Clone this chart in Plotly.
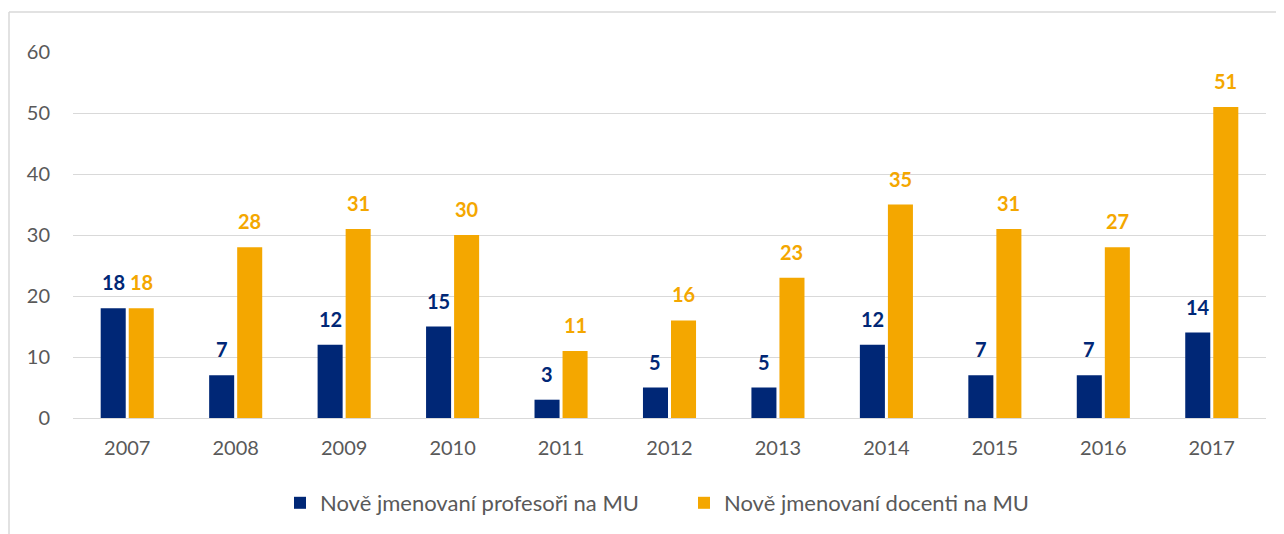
import plotly.graph_objects as go

years = ["2007", "2008", "2009", "2010", "2011", "2012", "2013", "2014", "2015", "2016", "2017"]
profesori = [18, 7, 12, 15, 3, 5, 5, 12, 7, 7, 14]
profesori_labels = [18, 7, 12, 15, 3, 5, 5, 12, 7, 7, 14]
docenti = [18, 28, 31, 30, 11, 16, 23, 35, 31, 28, 51]
docenti_labels = [18, 28, 31, 30, 11, 16, 23, 35, 31, 27, 51]

BLUE = "#002776"
ORANGE = "#F4A700"
FONT = "Lato, 'Open Sans', sans-serif"

# figure coordinates (page is offset by 8px body margin)
W, H = 1284, 534
plot_l, plot_r, plot_t, plot_b = 65, 1258, 44, 410
ph = plot_b - plot_t
pw = plot_r - plot_l
bargap, bargroupgap = 0.483, 0.107
cat_w = pw / len(years)
slot = cat_w * (1 - bargap) / 2
off = slot / 2

fig = go.Figure()
fig.add_trace(go.Bar(
    x=years, y=profesori, name="Nově jmenovaní profesoři na MU",
    marker=dict(color=BLUE, line=dict(width=0)),
))
fig.add_trace(go.Bar(
    x=years, y=docenti, name="Nově jmenovaní docenti na MU",
    marker=dict(color=ORANGE, line=dict(width=0)),
))

annotations = []
for series, labels, color, sh in [(profesori, profesori_labels, BLUE, -off),
                                  (docenti, docenti_labels, ORANGE, off)]:
    for i, (v, lab) in enumerate(zip(series, labels)):
        annotations.append(dict(
            x=i, y=v, xref="x", yref="y", text=str(lab), showarrow=False,
            xshift=sh, yshift=12, yanchor="bottom", xanchor="center",
            font=dict(color=color, size=20, family=FONT, weight="bold"),
        ))

fig.update_layout(
    width=W, height=H,
    margin=dict(l=plot_l, r=W - plot_r, t=plot_t, b=H - plot_b, autoexpand=False),
    paper_bgcolor="white", plot_bgcolor="white",
    barmode="group", bargap=bargap, bargroupgap=bargroupgap,
    font=dict(family=FONT, color="#595959", size=18),
    showlegend=True,
    legend=dict(orientation="h", x=(280 - 8 - plot_l) / pw, xanchor="left",
                y=(plot_b - 495) / ph, yanchor="middle",
                font=dict(size=22, color="#595959", family=FONT), itemwidth=30,
                entrywidth=359, entrywidthmode="pixels",
                traceorder="normal"),
    xaxis=dict(type="category", range=[-0.5, len(years) - 0.5], showgrid=False, showline=True,
               linecolor="#d9d9d9", linewidth=1,
               ticks="", tickfont=dict(size=20, color="#595959"), ticklabelstandoff=12,
               fixedrange=True),
    yaxis=dict(range=[0, 60], dtick=10, showgrid=True, gridcolor="#d9d9d9", gridwidth=1,
               zeroline=False, showline=False, ticks="",
               tickfont=dict(size=20, color="#595959"), ticklabelstandoff=22),
    annotations=annotations,
    shapes=[dict(type="line", xref="paper", yref="paper",
                 x0=(1 - plot_l) / pw, x1=(1290 - plot_l) / pw,
                 y0=(plot_b - 4) / ph, y1=(plot_b - 4) / ph,
                 line=dict(color="#d9d9d9", width=1.5), layer="below"),
            dict(type="line", xref="paper", yref="paper",
                 x0=(1 - plot_l) / pw, x1=(1 - plot_l) / pw,
                 y0=(plot_b - 4) / ph, y1=(plot_b - 540) / ph,
                 line=dict(color="#d9d9d9", width=1.5), layer="below")],
)

fig.write_html("out.html")
